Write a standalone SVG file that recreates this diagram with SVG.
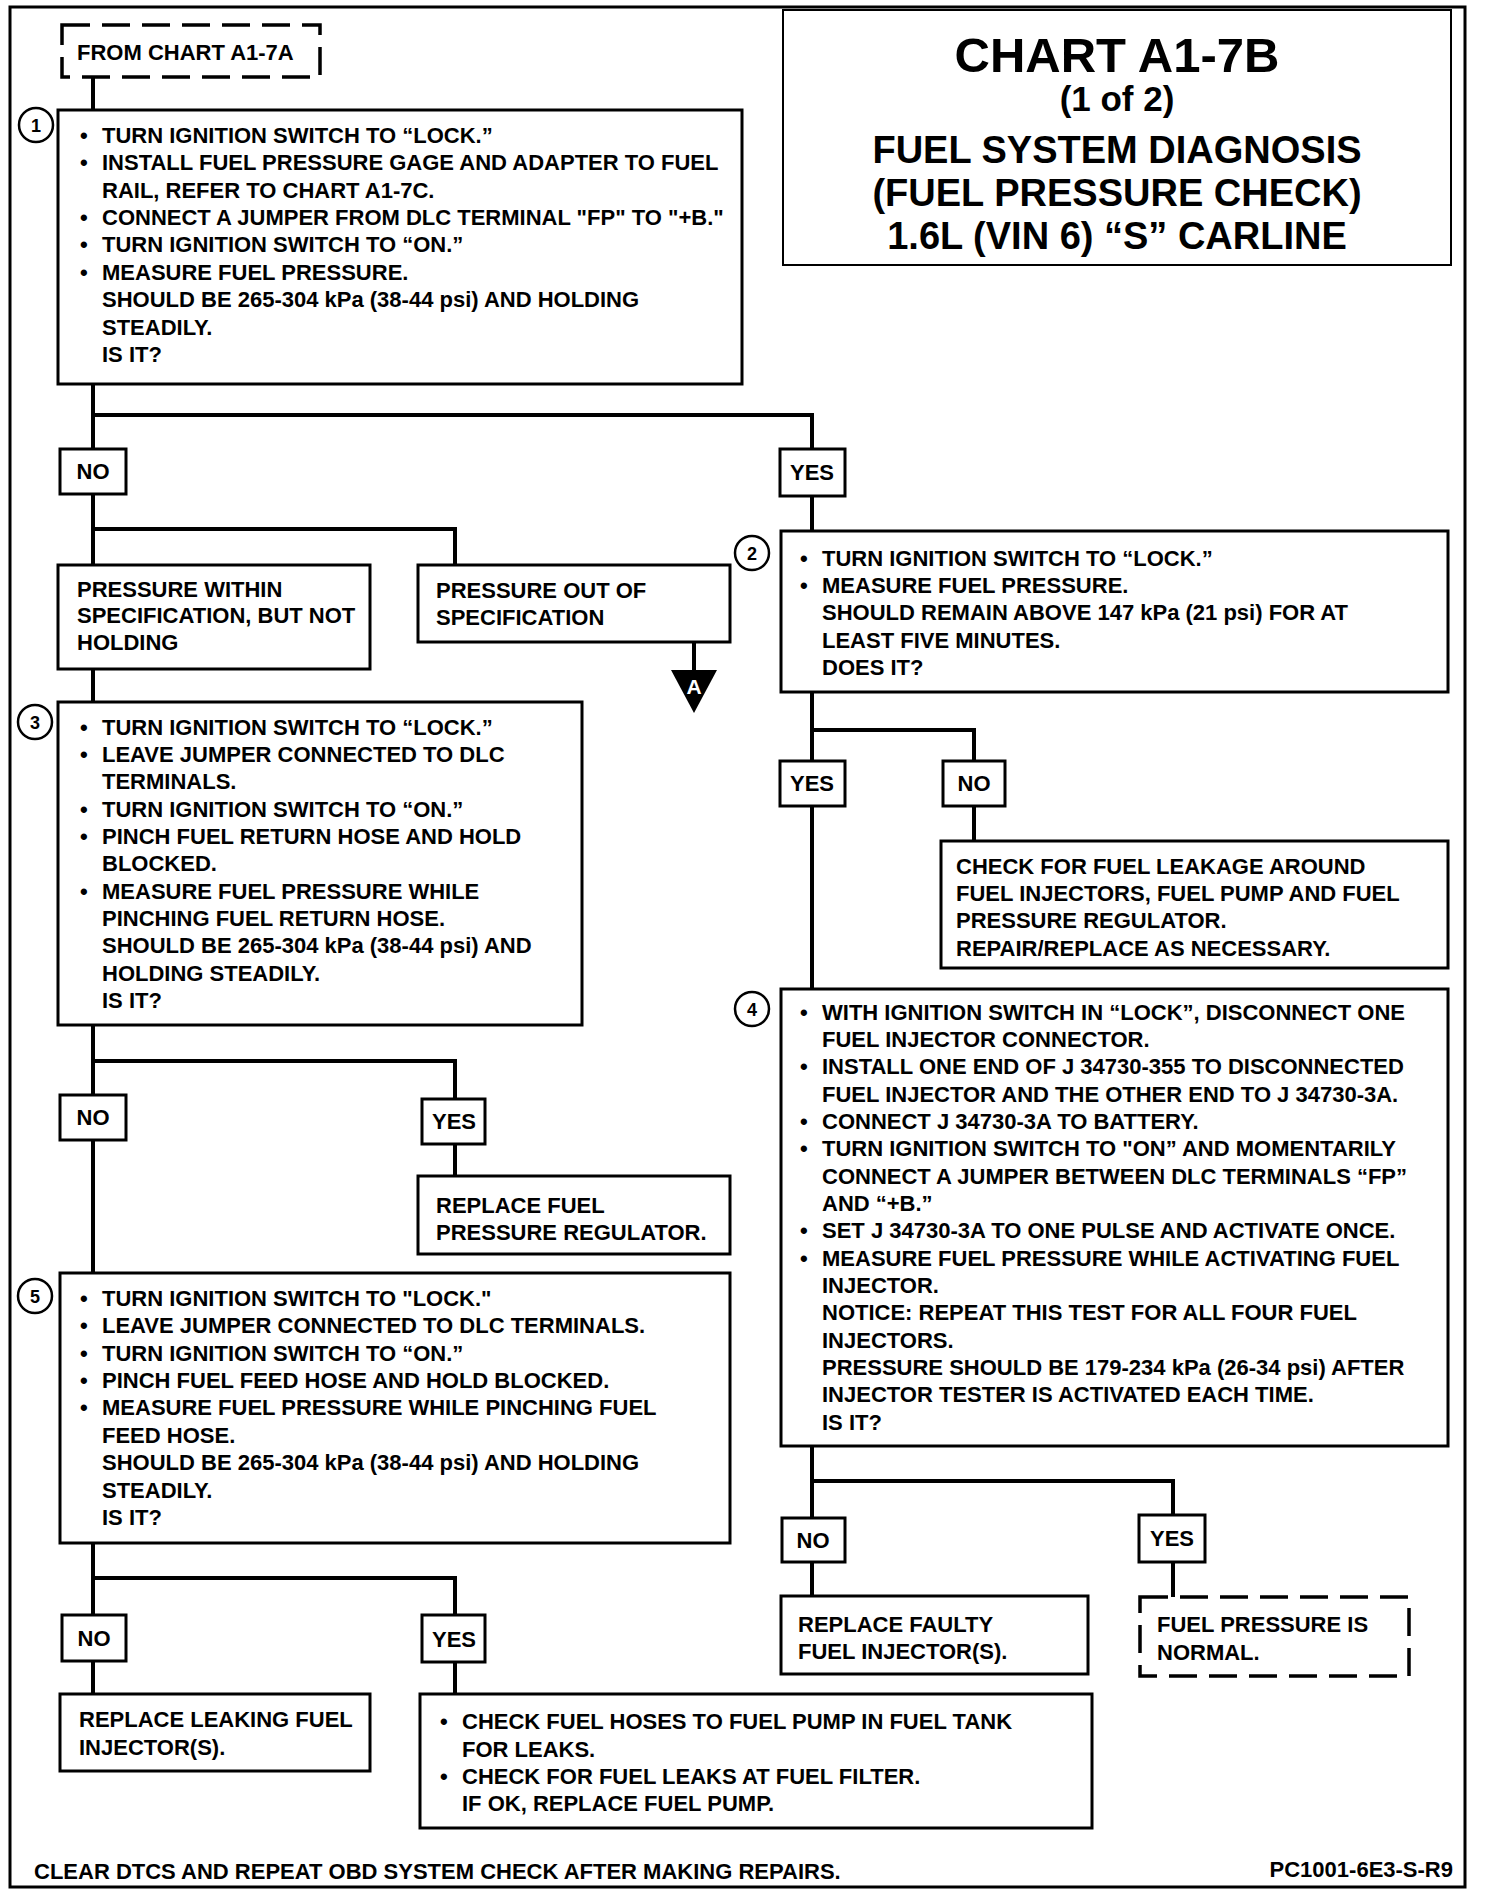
<svg xmlns="http://www.w3.org/2000/svg" width="1488" height="1896" viewBox="0 0 1488 1896">
<style>
.bx{fill:#fff;stroke:#000;stroke-width:3}
.dash{stroke-dasharray:28 12;stroke-width:3.5}
.t{font-family:"Liberation Sans",Arial,Helvetica,sans-serif;font-weight:bold;font-size:22px;fill:#000}
.c{text-anchor:middle}
.ttl{font-family:"Liberation Sans",Arial,Helvetica,sans-serif;font-weight:bold;fill:#000;text-anchor:middle}
.cn{fill:none;stroke:#000;stroke-width:4}
.num{fill:#fff;stroke:#000;stroke-width:2.5}
.nt{font-family:"Liberation Sans",Arial,sans-serif;font-weight:bold;font-size:18px;text-anchor:middle}
</style>
<rect x="0" y="0" width="1488" height="1896" fill="#fff"/>
<rect x="10" y="7" width="1455" height="1880" fill="none" stroke="#000" stroke-width="3"/>

<g id="connectors">
<path class="cn" d="M93,77V110"/>
<path class="cn" d="M93,384V449M93,415H812V449"/>
<path class="cn" d="M93,494V565M93,529H455V565"/>
<path class="cn" d="M694,642V672"/>
<path class="cn" d="M93,669V702"/>
<path class="cn" d="M93,1025V1095M93,1061H455V1099"/>
<path class="cn" d="M455,1144V1176"/>
<path class="cn" d="M93,1140V1273"/>
<path class="cn" d="M93,1543V1615M93,1578H455V1615"/>
<path class="cn" d="M93,1661V1694"/>
<path class="cn" d="M455,1661V1694"/>
<path class="cn" d="M812,496V531"/>
<path class="cn" d="M812,692V761M812,730H974V761"/>
<path class="cn" d="M974,806V841"/>
<path class="cn" d="M812,806V989"/>
<path class="cn" d="M812,1446V1518M812,1481H1173V1515"/>
<path class="cn" d="M812,1562V1596"/>
<path class="cn" d="M1173,1562V1597"/>
</g>

<g id="title">
<rect x="783" y="10" width="668" height="255" fill="#fff" stroke="#000" stroke-width="2"/>
<text class="ttl" x="1117" y="72" font-size="49">CHART A1-7B</text>
<text class="ttl" x="1117" y="111" font-size="35">(1 of 2)</text>
<text class="ttl" x="1117" y="163" font-size="38">FUEL SYSTEM DIAGNOSIS</text>
<text class="ttl" x="1117" y="206" font-size="38">(FUEL PRESSURE CHECK)</text>
<text class="ttl" x="1117" y="249" font-size="38">1.6L (VIN 6) “S” CARLINE</text>
</g>

<g id="from-chart">
<rect class="bx dash" x="62" y="25" width="258" height="52"/>
<text class="t" x="77" y="60">FROM CHART A1-7A</text>
</g>

<g id="step1">
<rect class="bx" x="58" y="110" width="684" height="274"/>
<circle class="num" cx="36" cy="125" r="17"/>
<text class="nt" x="36" y="131.5">1</text>
<text class="t">
<tspan x="80" y="143">•</tspan><tspan x="102" y="143">TURN IGNITION SWITCH TO “LOCK.”</tspan>
<tspan x="80" y="170.4">•</tspan><tspan x="102" y="170.4">INSTALL FUEL PRESSURE GAGE AND ADAPTER TO FUEL</tspan>
<tspan x="102" y="197.7">RAIL, REFER TO CHART A1-7C.</tspan>
<tspan x="80" y="225">•</tspan><tspan x="102" y="225">CONNECT A JUMPER FROM DLC TERMINAL "FP" TO "+B."</tspan>
<tspan x="80" y="252.4">•</tspan><tspan x="102" y="252.4">TURN IGNITION SWITCH TO “ON.”</tspan>
<tspan x="80" y="279.8">•</tspan><tspan x="102" y="279.8">MEASURE FUEL PRESSURE.</tspan>
<tspan x="102" y="307.1">SHOULD BE 265-304 kPa (38-44 psi) AND HOLDING</tspan>
<tspan x="102" y="334.5">STEADILY.</tspan>
<tspan x="102" y="361.8">IS IT?</tspan>
</text>
</g>

<g id="no1">
<rect class="bx" x="60" y="449" width="66" height="45"/>
<text class="t c" x="93" y="479">NO</text>
</g>
<g id="yes1">
<rect class="bx" x="780" y="449" width="65" height="47"/>
<text class="t c" x="812" y="480">YES</text>
</g>

<g id="within-spec">
<rect class="bx" x="58" y="565" width="312" height="104"/>
<text class="t">
<tspan x="77" y="596.5">PRESSURE WITHIN</tspan>
<tspan x="77" y="623">SPECIFICATION, BUT NOT</tspan>
<tspan x="77" y="650">HOLDING</tspan>
</text>
</g>

<g id="out-of-spec">
<rect class="bx" x="418" y="565" width="312" height="77"/>
<text class="t">
<tspan x="436" y="597.5">PRESSURE OUT OF</tspan>
<tspan x="436" y="625">SPECIFICATION</tspan>
</text>
</g>

<g id="goto-A">
<polygon points="671,670 717,670 694,713" fill="#000"/>
<text x="694" y="694" font-family="Liberation Sans,Arial,sans-serif" font-weight="bold" font-size="21" fill="#fff" text-anchor="middle">A</text>
</g>

<g id="step2">
<rect class="bx" x="781" y="531" width="667" height="161"/>
<circle class="num" cx="752" cy="553" r="17"/>
<text class="nt" x="752" y="559.5">2</text>
<text class="t">
<tspan x="800" y="565.5">•</tspan><tspan x="822" y="565.5">TURN IGNITION SWITCH TO “LOCK.”</tspan>
<tspan x="800" y="592.9">•</tspan><tspan x="822" y="592.9">MEASURE FUEL PRESSURE.</tspan>
<tspan x="822" y="620.2">SHOULD REMAIN ABOVE 147 kPa (21 psi) FOR AT</tspan>
<tspan x="822" y="647.5">LEAST FIVE MINUTES.</tspan>
<tspan x="822" y="674.9">DOES IT?</tspan>
</text>
</g>

<g id="yes2">
<rect class="bx" x="780" y="761" width="65" height="45"/>
<text class="t c" x="812" y="791">YES</text>
</g>
<g id="no2">
<rect class="bx" x="943" y="761" width="62" height="45"/>
<text class="t c" x="974" y="791">NO</text>
</g>

<g id="check-leakage">
<rect class="bx" x="941" y="841" width="507" height="127"/>
<text class="t">
<tspan x="956" y="873.5">CHECK FOR FUEL LEAKAGE AROUND</tspan>
<tspan x="956" y="900.9">FUEL INJECTORS, FUEL PUMP AND FUEL</tspan>
<tspan x="956" y="928.2">PRESSURE REGULATOR.</tspan>
<tspan x="956" y="955.5">REPAIR/REPLACE AS NECESSARY.</tspan>
</text>
</g>

<g id="step3">
<rect class="bx" x="58" y="702" width="524" height="323"/>
<circle class="num" cx="35" cy="722" r="17"/>
<text class="nt" x="35" y="728.5">3</text>
<text class="t">
<tspan x="80" y="734.5">•</tspan><tspan x="102" y="734.5">TURN IGNITION SWITCH TO “LOCK.”</tspan>
<tspan x="80" y="761.9">•</tspan><tspan x="102" y="761.9">LEAVE JUMPER CONNECTED TO DLC</tspan>
<tspan x="102" y="789.2">TERMINALS.</tspan>
<tspan x="80" y="816.6">•</tspan><tspan x="102" y="816.6">TURN IGNITION SWITCH TO “ON.”</tspan>
<tspan x="80" y="843.9">•</tspan><tspan x="102" y="843.9">PINCH FUEL RETURN HOSE AND HOLD</tspan>
<tspan x="102" y="871.3">BLOCKED.</tspan>
<tspan x="80" y="898.6">•</tspan><tspan x="102" y="898.6">MEASURE FUEL PRESSURE WHILE</tspan>
<tspan x="102" y="926">PINCHING FUEL RETURN HOSE.</tspan>
<tspan x="102" y="953.3">SHOULD BE 265-304 kPa (38-44 psi) AND</tspan>
<tspan x="102" y="980.7">HOLDING STEADILY.</tspan>
<tspan x="102" y="1008">IS IT?</tspan>
</text>
</g>

<g id="no3">
<rect class="bx" x="60" y="1095" width="66" height="45"/>
<text class="t c" x="93" y="1125">NO</text>
</g>
<g id="yes3">
<rect class="bx" x="422" y="1099" width="63" height="45"/>
<text class="t c" x="454" y="1129">YES</text>
</g>

<g id="replace-regulator">
<rect class="bx" x="418" y="1176" width="312" height="78"/>
<text class="t">
<tspan x="436" y="1212.5">REPLACE FUEL</tspan>
<tspan x="436" y="1240">PRESSURE REGULATOR.</tspan>
</text>
</g>

<g id="step5">
<rect class="bx" x="60" y="1273" width="670" height="270"/>
<circle class="num" cx="35" cy="1296" r="17"/>
<text class="nt" x="35" y="1302.5">5</text>
<text class="t">
<tspan x="80" y="1306">•</tspan><tspan x="102" y="1306">TURN IGNITION SWITCH TO "LOCK."</tspan>
<tspan x="80" y="1333.4">•</tspan><tspan x="102" y="1333.4">LEAVE JUMPER CONNECTED TO DLC TERMINALS.</tspan>
<tspan x="80" y="1360.7">•</tspan><tspan x="102" y="1360.7">TURN IGNITION SWITCH TO “ON.”</tspan>
<tspan x="80" y="1388">•</tspan><tspan x="102" y="1388">PINCH FUEL FEED HOSE AND HOLD BLOCKED.</tspan>
<tspan x="80" y="1415.4">•</tspan><tspan x="102" y="1415.4">MEASURE FUEL PRESSURE WHILE PINCHING FUEL</tspan>
<tspan x="102" y="1442.8">FEED HOSE.</tspan>
<tspan x="102" y="1470.1">SHOULD BE 265-304 kPa (38-44 psi) AND HOLDING</tspan>
<tspan x="102" y="1497.5">STEADILY.</tspan>
<tspan x="102" y="1524.8">IS IT?</tspan>
</text>
</g>

<g id="no5">
<rect class="bx" x="62" y="1615" width="64" height="46"/>
<text class="t c" x="94" y="1646">NO</text>
</g>
<g id="yes5">
<rect class="bx" x="422" y="1615" width="63" height="47"/>
<text class="t c" x="454" y="1647">YES</text>
</g>

<g id="replace-leaking">
<rect class="bx" x="60" y="1694" width="310" height="77"/>
<text class="t">
<tspan x="79" y="1727">REPLACE LEAKING FUEL</tspan>
<tspan x="79" y="1755">INJECTOR(S).</tspan>
</text>
</g>

<g id="check-hoses">
<rect class="bx" x="420" y="1694" width="672" height="134"/>
<text class="t">
<tspan x="440" y="1729">•</tspan><tspan x="462" y="1729">CHECK FUEL HOSES TO FUEL PUMP IN FUEL TANK</tspan>
<tspan x="462" y="1756.5">FOR LEAKS.</tspan>
<tspan x="440" y="1784">•</tspan><tspan x="462" y="1784">CHECK FOR FUEL LEAKS AT FUEL FILTER.</tspan>
<tspan x="462" y="1811">IF OK, REPLACE FUEL PUMP.</tspan>
</text>
</g>

<g id="step4">
<rect class="bx" x="781" y="989" width="667" height="457"/>
<circle class="num" cx="752" cy="1009" r="17"/>
<text class="nt" x="752" y="1015.5">4</text>
<text class="t">
<tspan x="800" y="1019.5">•</tspan><tspan x="822" y="1019.5">WITH IGNITION SWITCH IN “LOCK”, DISCONNECT ONE</tspan>
<tspan x="822" y="1046.9">FUEL INJECTOR CONNECTOR.</tspan>
<tspan x="800" y="1074.2">•</tspan><tspan x="822" y="1074.2">INSTALL ONE END OF J 34730-355 TO DISCONNECTED</tspan>
<tspan x="822" y="1101.6">FUEL INJECTOR AND THE OTHER END TO J 34730-3A.</tspan>
<tspan x="800" y="1128.9">•</tspan><tspan x="822" y="1128.9">CONNECT J 34730-3A TO BATTERY.</tspan>
<tspan x="800" y="1156.3">•</tspan><tspan x="822" y="1156.3">TURN IGNITION SWITCH TO "ON” AND MOMENTARILY</tspan>
<tspan x="822" y="1183.6">CONNECT A JUMPER BETWEEN DLC TERMINALS “FP”</tspan>
<tspan x="822" y="1211">AND “+B.”</tspan>
<tspan x="800" y="1238.3">•</tspan><tspan x="822" y="1238.3">SET J 34730-3A TO ONE PULSE AND ACTIVATE ONCE.</tspan>
<tspan x="800" y="1265.7">•</tspan><tspan x="822" y="1265.7">MEASURE FUEL PRESSURE WHILE ACTIVATING FUEL</tspan>
<tspan x="822" y="1293">INJECTOR.</tspan>
<tspan x="822" y="1320.4">NOTICE: REPEAT THIS TEST FOR ALL FOUR FUEL</tspan>
<tspan x="822" y="1347.7">INJECTORS.</tspan>
<tspan x="822" y="1375.1">PRESSURE SHOULD BE 179-234 kPa (26-34 psi) AFTER</tspan>
<tspan x="822" y="1402.4">INJECTOR TESTER IS ACTIVATED EACH TIME.</tspan>
<tspan x="822" y="1429.8">IS IT?</tspan>
</text>
</g>

<g id="no4">
<rect class="bx" x="782" y="1518" width="63" height="44"/>
<text class="t c" x="813" y="1547.5">NO</text>
</g>
<g id="yes4">
<rect class="bx" x="1139" y="1515" width="66" height="47"/>
<text class="t c" x="1172" y="1546">YES</text>
</g>

<g id="replace-injectors">
<rect class="bx" x="781" y="1596" width="307" height="78"/>
<text class="t">
<tspan x="798" y="1631.5">REPLACE FAULTY</tspan>
<tspan x="798" y="1659">FUEL INJECTOR(S).</tspan>
</text>
</g>

<g id="pressure-normal">
<rect class="bx dash" x="1140" y="1597" width="269" height="79"/>
<text class="t">
<tspan x="1157" y="1632">FUEL PRESSURE IS</tspan>
<tspan x="1157" y="1660">NORMAL.</tspan>
</text>
</g>

<g id="footer">
<text class="t" x="34" y="1879">CLEAR DTCS AND REPEAT OBD SYSTEM CHECK AFTER MAKING REPAIRS.</text>
<text class="t" x="1453" y="1877" font-size="16" text-anchor="end">PC1001-6E3-S-R9</text>
</g>
</svg>
